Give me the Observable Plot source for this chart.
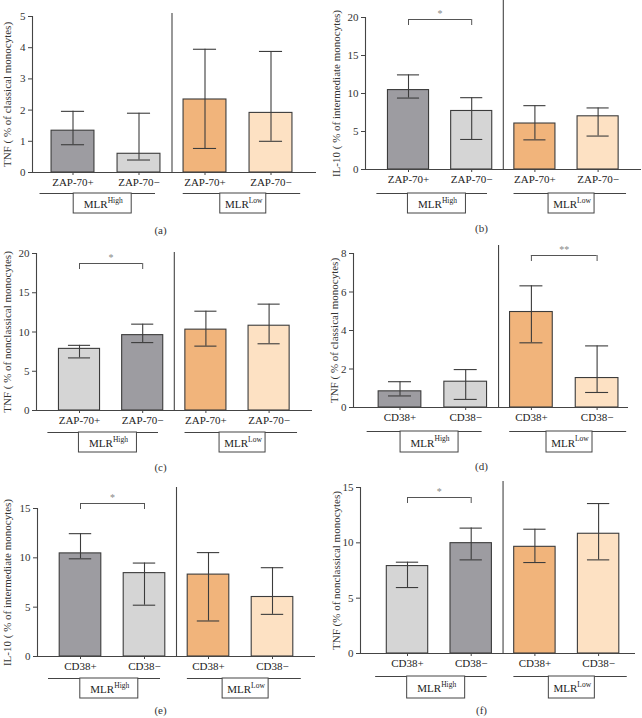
<!DOCTYPE html>
<html>
<head>
<meta charset="utf-8">
<script src="https://cdn.jsdelivr.net/npm/d3@7"></script>
<script src="https://cdn.jsdelivr.net/npm/@observablehq/plot@0.6"></script>
<style>
  html, body { margin: 0; padding: 0; background: #fff; }
  #chart { position: relative; width: 642px; height: 718px; background: #fff; overflow: hidden; }
  #chart svg { position: absolute; }
</style>
</head>
<body>
<div id="chart"></div>
<script>
// ---------- data ----------
const panelLetters = ["(a)", "(b)", "(c)", "(d)", "(e)", "(f)"];
const yTitles = [
  "TNF ( % of classical monocytes)",
  "IL-10 ( % of intermediate monocytes)",
  "TNF ( % of nonclassical monocytes)",
  "TNF ( % of classical monocytes)",
  "IL-10 ( % of intermediate monocytes)",
  "TNF (% of nonclassical monocytes)"
];
const zapCategories = ["ZAP-70+", "ZAP-70\u2212", "ZAP-70+", "ZAP-70\u2212"];
const cd38Categories = ["CD38+", "CD38\u2212", "CD38+", "CD38\u2212"];
const groupBase = ["MLR", "MLR"];
const groupSup = ["High", "Low"];

const yTicksA = [0, 1, 2, 3, 4, 5];
const yTicksB = [0, 5, 10, 15, 20];
const yTicksC = [0, 5, 10, 15, 20];
const yTicksD = [0, 2, 4, 6, 8];
const yTicksE = [0, 5, 10, 15];
const yTicksF = [0, 5, 10, 15];

const meanA = [1.34, 0.60, 2.34, 1.91];
const lowA  = [0.89, 0.40, 0.77, 1.00];
const highA = [1.96, 1.90, 3.95, 3.88];

const meanB = [10.45, 7.7, 6.05, 7.0];
const lowB  = [9.4, 3.95, 3.9, 4.4];
const highB = [12.45, 9.45, 8.4, 8.1];

const meanC = [7.85, 9.6, 10.3, 10.8];
const lowC  = [6.7, 8.65, 8.2, 8.5];
const highC = [8.3, 11.0, 12.65, 13.55];

const meanD = [0.84, 1.34, 4.96, 1.53];
const lowD  = [0.6, 0.42, 3.36, 0.78];
const highD = [1.34, 1.97, 6.32, 3.2];

const meanE = [10.45, 8.45, 8.3, 6.03];
const lowE  = [9.9, 5.2, 3.6, 4.27];
const highE = [12.45, 9.47, 10.53, 9.0];

const meanF = [7.9, 9.97, 9.64, 10.82];
const lowF  = [5.96, 8.46, 8.22, 8.46];
const highF = [8.25, 11.33, 11.23, 13.55];

// significance: [index1, index2, label]
const sigA = null;
const sigB = [0, 1, "*"];
const sigC = [0, 1, "*"];
const sigD = [2, 3, "**"];
const sigE = [0, 1, "*"];
const sigF = [0, 1, "*"];

// ---------- styles & layout ----------
const DARK = "#9d9ca1", LIGHT = "#d5d5d5", ORANGE = "#f1b47b", PEACH = "#fde1c3";
const STROKE = "#3c3c3c", AXIS = "#444";
const FONT = "Liberation Serif, Times New Roman, serif";

const panels = [
  {cats: zapCategories, mean: meanA, low: lowA, high: highA, ticks: yTicksA, sig: sigA,
   svgL: 0, svgT: 0, w: 321, h: 238, axisL: 32, axisR: 316, topY: 16, zeroY: 172, c1: 72.5, sp: 66,
   divTop: 13, labelX: 7, groupY: 193, boxB: 213, capX: 160, capY: 230, sigY: 0, fills: [DARK, LIGHT, ORANGE, PEACH]},
  {cats: zapCategories, mean: meanB, low: lowB, high: highB, ticks: yTicksB, sig: sigB,
   svgL: 321, svgT: 0, w: 321, h: 238, axisL: 365, axisR: 641, topY: 17, zeroY: 169, c1: 408, sp: 63.2,
   divTop: 0, labelX: 336, groupY: 193, boxB: 213, capX: 481, capY: 228, sigY: 19, fills: [DARK, LIGHT, ORANGE, PEACH]},
  {cats: zapCategories, mean: meanC, low: lowC, high: highC, ticks: yTicksC, sig: sigC,
   svgL: 0, svgT: 238, w: 321, h: 236, axisL: 36, axisR: 312, topY: 253, zeroY: 410, c1: 79, sp: 63.2,
   divTop: 252, labelX: 7, groupY: 432, boxB: 452, capX: 160, capY: 467, sigY: 263, fills: [LIGHT, DARK, ORANGE, PEACH]},
  {cats: cd38Categories, mean: meanD, low: lowD, high: highD, ticks: yTicksD, sig: sigD,
   svgL: 321, svgT: 238, w: 321, h: 236, axisL: 353, axisR: 628, topY: 253, zeroY: 407, c1: 399.5, sp: 65.7,
   divTop: 245, labelX: 334, groupY: 431, boxB: 452, capX: 481, capY: 466, sigY: 255, fills: [DARK, LIGHT, ORANGE, PEACH]},
  {cats: cd38Categories, mean: meanE, low: lowE, high: highE, ticks: yTicksE, sig: sigE,
   svgL: 0, svgT: 474, w: 321, h: 244, axisL: 37, axisR: 315, topY: 508, zeroY: 656, c1: 80, sp: 64,
   divTop: 487, labelX: 7, groupY: 678, boxB: 698, capX: 160, capY: 710, sigY: 503, fills: [DARK, LIGHT, ORANGE, PEACH]},
  {cats: cd38Categories, mean: meanF, low: lowF, high: highF, ticks: yTicksF, sig: sigF,
   svgL: 321, svgT: 474, w: 321, h: 244, axisL: 360, axisR: 635, topY: 487, zeroY: 653, c1: 407, sp: 63.7,
   divTop: 481, labelX: 336, groupY: 676, boxB: 698, capX: 481, capY: 710, sigY: 497, fills: [LIGHT, DARK, ORANGE, PEACH]}
];

const chart = document.getElementById("chart");

panels.forEach((P, k) => {
  const ymax = P.ticks[P.ticks.length - 1];
  const pyu = (P.zeroY - P.topY) / ymax;           // px per y unit
  const X = px => (px - P.c1) / P.sp;               // page px -> x data
  const Y = py => (P.zeroY - py) / pyu;             // page py -> y data
  const d0 = X(P.axisL), d1 = X(P.axisR);
  const hw = 0.325, cap = 0.175;

  const rows = P.cats.map((c, i) => ({i, cat: c, mean: P.mean[i], lo: P.low[i], hi: P.high[i], fill: P.fills[i]}));

  const groups = [
    {g: 0, x1: 0 - 0.5, x2: 1 + 0.25, cx: 0.5 - 0.05, bw: 58, off1: 19, off2: 5},
    {g: 1, x1: 2 - 0.33, x2: 3 + 0.45, cx: 2.5 + 0.08, bw: 46, off1: 18.3, off2: 5.5}
  ].map(d => ({...d, base: groupBase[d.g], sup: groupSup[d.g]}));
  const gy = Y(P.groupY), by = Y(P.boxB), bmid = Y((P.groupY + P.boxB) / 2 + 1);

  const marks = [
    Plot.rect(rows, {x1: d => d.i - hw, x2: d => d.i + hw, y1: 0, y2: "mean", fill: "fill", stroke: STROKE, strokeWidth: 1.1}),
    Plot.ruleX(rows, {x: "i", y1: "lo", y2: "hi", stroke: STROKE, strokeWidth: 1.1}),
    Plot.ruleY(rows, {y: "hi", x1: d => d.i - cap, x2: d => d.i + cap, stroke: STROKE, strokeWidth: 1.1}),
    Plot.ruleY(rows, {y: "lo", x1: d => d.i - cap, x2: d => d.i + cap, stroke: STROKE, strokeWidth: 1.1}),
    Plot.ruleY([0], {x1: d0, x2: d1, stroke: AXIS, strokeWidth: 1.1}),
    Plot.ruleX([d0], {y1: 0, y2: ymax, stroke: AXIS, strokeWidth: 1.1}),
    // divider between the two MLR groups
    Plot.ruleX([1.5], {y1: Y(P.zeroY + 1), y2: Y(P.divTop), stroke: AXIS, strokeWidth: 1.1}),
    Plot.axisY({ticks: P.ticks, tickFormat: d => String(d), tickSize: 4, tickPadding: 3, label: null, fontSize: 11, stroke: AXIS, fill: "#333"}),
    Plot.axisX({ticks: [0, 1, 2, 3], tickFormat: i => P.cats[i], tickSize: 3, tickPadding: 3, label: null, fontSize: 11, stroke: AXIS, fill: "#222"}),
    Plot.text([{x: X(P.labelX), y: ymax / 2, t: yTitles[k]}], {x: "x", y: "y", text: "t", rotate: -90, fontSize: 11, fill: "#333"}),
    Plot.ruleY(groups, {y: gy, x1: "x1", x2: "x2", stroke: AXIS, strokeWidth: 1}),
    Plot.rect(groups, {x1: d => d.cx - d.bw / 2 / P.sp, x2: d => d.cx + d.bw / 2 / P.sp, y1: by, y2: gy, fill: "white", stroke: AXIS, strokeWidth: 1}),
    Plot.text(groups, {x: d => d.cx - d.off1 / P.sp, y: bmid, text: "base", textAnchor: "start", fontSize: 11, fill: "#222"}),
    Plot.text(groups, {x: d => d.cx + d.off2 / P.sp, y: bmid, text: "sup", textAnchor: "start", fontSize: 7.5, dy: -4, fill: "#222"}),
    Plot.text([{x: X(P.capX), y: Y(P.capY), t: panelLetters[k]}], {x: "x", y: "y", text: "t", fontSize: 11, fill: "#333"})
  ];

  if (P.sig) {
    const [a, b, lab] = P.sig;
    const top = Y(P.sigY), drop = Y(P.sigY + 6);
    marks.push(
      Plot.ruleY([top], {x1: a, x2: b, stroke: "#555", strokeWidth: 1}),
      Plot.ruleX([a, b], {x: d => d, y1: drop, y2: top, stroke: "#555", strokeWidth: 1}),
      Plot.text([{x: (a + b) / 2, y: top, t: lab}], {x: "x", y: "y", text: "t", dy: -6, fontSize: 10, fill: "#888"})
    );
  }

  const svg = Plot.plot({
    width: P.w,
    height: P.h,
    marginLeft: P.axisL - P.svgL,
    marginRight: P.svgL + P.w - P.axisR,
    marginTop: P.topY - P.svgT,
    marginBottom: P.svgT + P.h - P.zeroY,
    x: {type: "linear", domain: [d0, d1]},
    y: {type: "linear", domain: [0, ymax]},
    color: {type: "identity"},
    style: {background: "transparent", fontFamily: FONT, fontSize: "11px", color: "#222", overflow: "visible"},
    marks
  });
  svg.style.left = P.svgL + "px";
  svg.style.top = P.svgT + "px";
  chart.appendChild(svg);
});
</script>
</body>
</html>
